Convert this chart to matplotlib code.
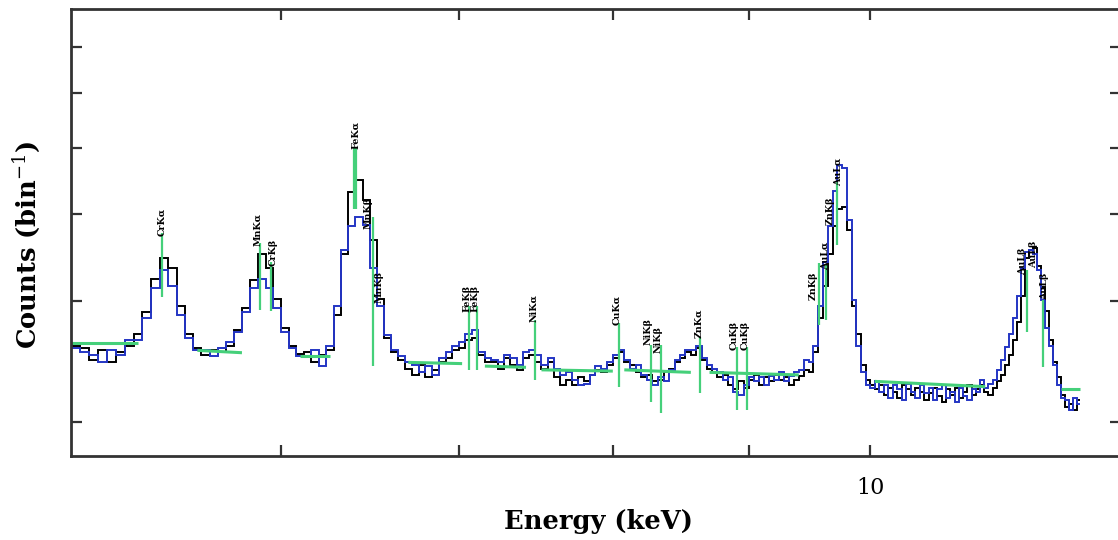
import numpy as np
import matplotlib
matplotlib.use("Agg")
import matplotlib.pyplot as plt
from matplotlib.ticker import NullLocator

plt.rcParams['mathtext.fontset'] = 'dejavuserif'

# energy bins (keV), 40 eV wide
edges = np.round(5.0 + 0.04 * np.arange(176), 2)

# spectrum 1 (black), counts per bin
black_counts = [
    25.8, 25.6, 24.6, 25.4, 24.4, 25.3, 25.8,
    26.8, 28.9, 32.2, 34.6, 33.4, 29.5, 26.8, 25.6,
    25.0, 25.4, 25.3,
    25.8, 27.2, 29.3, 32.1, 35.0, 33.4, 30.2, 27.4, 25.8, 25.1,
    25.3, 24.4, 25.0,
    25.4, 28.6, 35.0, 43.1, 44.8, 41.9, 36.7, 30.2, 26.5, 25.3, 24.6,
    23.9, 23.4, 24.2, 23.2, 23.8, 24.4, 24.8, 25.4,
    25.6, 26.3, 26.5, 25.0, 24.4,
    24.4, 23.9, 24.8, 24.2, 23.8,
    24.8, 25.0, 24.4, 23.9,
    24.4, 23.2, 22.6, 23.0, 22.6, 23.2, 22.9, 23.4, 23.8, 23.6, 24.2,
    24.8, 25.3, 24.4,
    24.2, 23.6, 23.2, 23.4, 22.9, 23.0, 23.6, 23.9, 24.4, 24.8, 25.3,
    25.0, 25.6, 24.6, 23.9,
    23.6, 23.2, 23.4, 22.6, 22.3, 22.9, 22.4, 23.0, 23.4, 22.6, 23.2, 22.9,
    23.4, 23.0, 23.2, 22.6, 23.0, 23.3, 23.8,
    23.6, 25.3, 28.3, 31.5, 35.0, 38.5, 40.7, 41.0, 37.9, 29.5, 26.8, 24.2,
    23.0, 22.6,
    22.3, 22.6, 21.9, 22.4, 22.1, 21.7, 22.6, 22.3, 21.9, 22.4, 22.1, 21.5,
    22.0, 22.4, 21.8, 21.4, 22.3, 21.9, 22.4, 21.7, 22.1, 22.6, 21.9, 22.3, 22.6,
    22.1, 21.9, 22.4, 22.9, 23.4, 24.2, 25.0, 26.3, 27.9, 30.5, 34.6, 35.5,
    35.7, 33.7, 31.4, 29.0, 26.3, 24.4, 23.2, 21.9, 21.0, 21.2, 20.8, 21.5,
]

# spectrum 2 (blue)
blue_counts = [
    25.6, 25.3, 25.0, 24.4, 25.4, 25.0, 26.3,
    26.3, 28.3, 31.3, 33.2, 31.5, 28.6, 26.5, 25.4,
    25.4, 24.9, 25.6,
    26.1, 27.0, 28.9, 31.3, 32.2, 31.3, 29.3, 27.0, 25.6, 24.9,
    24.9, 25.4, 24.1,
    25.8, 29.5, 35.5, 38.5, 39.6, 38.6, 33.4, 29.5, 26.7, 25.4, 24.9,
    24.4, 24.2, 23.6, 24.1, 23.4, 24.8, 25.3, 25.8,
    26.1, 26.8, 27.2, 25.3, 24.8,
    24.6, 24.4, 25.0, 24.8, 24.2,
    25.3, 25.4, 25.0, 24.2,
    24.8, 23.9, 23.4, 23.6, 23.0, 22.6, 22.7, 23.4, 24.1, 23.9, 24.4,
    25.0, 25.4, 24.6,
    23.9, 24.2, 23.4, 23.0, 22.6, 23.2, 22.9, 23.8, 24.6, 25.0, 25.4,
    25.4, 25.8, 24.8, 24.2,
    23.9, 23.6, 23.0, 23.2, 22.1, 21.9, 22.6, 23.2, 22.9, 23.2, 22.6, 23.3,
    23.0, 23.6, 22.9, 23.3, 23.6, 23.8, 24.6,
    24.4, 25.8, 29.5, 34.1, 38.5, 43.3, 47.1, 46.7, 39.2, 30.1, 25.8, 23.6,
    22.6, 22.4,
    22.9, 22.1, 22.6, 21.7, 22.6, 22.3, 21.5, 22.7, 22.1, 21.7, 22.6, 22.0,
    22.4, 21.5, 22.3, 22.6, 21.7, 22.1, 21.4, 22.4, 21.8, 21.5, 22.3, 22.1, 23.0,
    22.4, 22.7, 23.0, 23.8, 24.6, 25.7, 26.8, 28.3, 30.5, 33.4, 35.3, 35.5,
    35.0, 33.2, 30.1, 27.4, 25.8, 24.2, 22.6, 21.7, 21.5, 20.8, 21.7, 21.2,
]

# model continuum pieces (green): start/end energy, start/end level
cont_e0 = [5.00, 5.58, 6.10, 6.70, 7.16, 7.52, 8.08, 8.70, 10.04, 11.80]
cont_e1 = [5.30, 5.80, 6.26, 7.02, 7.42, 8.00, 8.56, 9.40, 11.05, 12.00]
cont_c0 = [26.0, 25.4, 24.9, 24.4, 24.1, 23.8, 23.8, 23.6, 22.9, 22.3]
cont_c1 = [26.0, 25.2, 24.9, 24.3, 24.0, 23.7, 23.6, 23.4, 22.5, 22.3]

# model lines (green verticals)
line_energy = [5.41, 5.89, 5.95, 6.391, 6.404, 6.50, 7.06, 7.11, 7.48, 8.04,
               8.27, 8.34, 8.63, 8.91, 8.99, 9.57, 9.628, 9.713, 11.46, 11.62]
line_top = [37.6, 36.3, 34.1, 50.1, 50.1, 39.7, 29.5, 29.5, 28.1, 27.8,
            25.9, 25.9, 26.6, 25.7, 25.7, 34.0, 33.8, 44.6, 33.2, 30.1]
line_bottom = [30.4, 29.1, 29.0, 40.7, 40.7, 24.1, 23.8, 23.8, 23.0, 22.5,
               21.4, 20.6, 22.0, 20.8, 20.8, 27.6, 28.1, 36.1, 27.0, 24.0]

# line identifications
label_energy = [5.41, 5.88, 5.96, 6.40, 6.47, 6.53, 7.05, 7.10, 7.47, 8.03,
                8.25, 8.32, 8.62, 8.89, 8.97, 9.52, 9.62, 9.66, 9.73,
                11.41, 11.52, 11.63]
label_base = [37.2, 36.0, 33.7, 49.7, 38.1, 29.8, 28.9, 28.9, 27.9, 27.6,
              25.9, 25.2, 26.5, 25.4, 25.4, 30.1, 33.2, 38.6, 44.0,
              32.7, 33.4, 30.1]
label_text = ['CrKα', 'MnKα', 'CrKβ', 'FeKα', 'MnKβ', 'MnKβ', 'FeKβ', 'FeKβ',
              'NiKα', 'CuKα', 'NiKβ', 'NiKβ', 'ZnKα', 'CuKβ', 'CuKβ',
              'ZnKβ', 'AuLα', 'ZnKβ', 'AuLα', 'AuLβ', 'AuLβ', 'AuLβ']

green = '#45d07a'

fig = plt.figure(figsize=(11.18, 5.40), dpi=100)
ax = fig.add_axes([70.8 / 1118, 1 - 456 / 540, (1121 - 70.8) / 1118, 447 / 540])
ax.set_xscale('log')
ax.set_yscale('log')

ax.stairs(black_counts, edges, color='black', lw=1.4, baseline=None)
ax.stairs(blue_counts, edges, color='#2435c4', lw=1.4, baseline=None)

for e0, e1, c0, c1 in zip(cont_e0, cont_e1, cont_c0, cont_c1):
    ax.plot([e0, e1], [c0, c1], color=green, lw=2.2, solid_capstyle='butt')
ax.vlines(line_energy, line_bottom, line_top, color=green, lw=1.6)

for e, b, t in zip(label_energy, label_base, label_text):
    ax.text(e, b, t, rotation=90, ha='center', va='bottom', fontsize=6.8,
            fontweight='bold', family='DejaVu Serif', color='black')

ax.set_xlim(5.0, 12.43)
ax.set_ylim(17.85, 79.4)

ax.set_xticks([6, 7, 8, 9, 10])
ax.set_xticklabels(['', '', '', '', '10'], family='DejaVu Serif')
ax.set_yticks([20, 30, 40, 50, 60, 70])
ax.set_yticklabels([])
ax.xaxis.set_minor_locator(NullLocator())
ax.yaxis.set_minor_locator(NullLocator())
ax.tick_params(direction='in', length=8, width=1.6, top=True, right=True,
               labelsize=16, pad=15, color='#333333')
for s in ax.spines.values():
    s.set_linewidth(2)
    s.set_color('#333333')

fig.text(598 / 1118, 1 - 522 / 540, 'Energy (keV)', ha='center', va='center',
         fontsize=18.5, fontweight='bold', family='DejaVu Serif')
fig.text(27 / 1118, 1 - 245 / 540, r'Counts (bin$^{-1}$)', rotation=90,
         ha='center', va='center', fontsize=18.5, fontweight='bold',
         family='DejaVu Serif')

fig.savefig('out.png', dpi=100)
